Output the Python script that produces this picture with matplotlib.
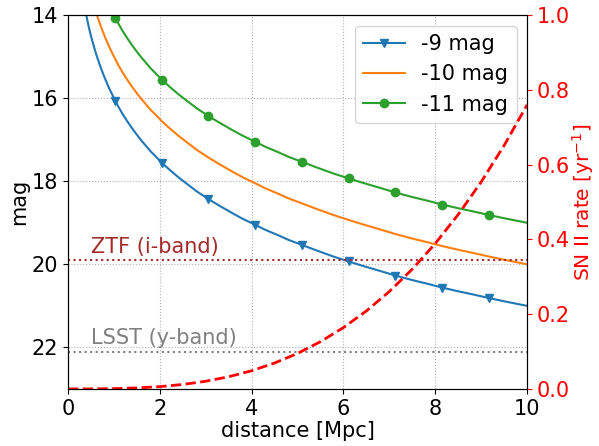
import matplotlib
matplotlib.use("Agg")
import matplotlib.pyplot as plt

# distances [Mpc] at which the curves were read
distance = [0.35, 0.4, 0.45, 0.5, 0.55, 0.6, 0.65, 0.7, 0.75, 0.8, 0.9, 1.03, 1.1, 1.2, 1.3,
            1.4, 1.5, 1.6, 1.7, 1.8, 1.9, 2.04, 2.2, 2.4, 2.6, 2.8, 3.06, 3.3, 3.6, 3.8,
            4.08, 4.3, 4.6, 4.8, 5.09, 5.4, 5.8, 6.11, 6.4, 6.8, 7.13, 7.5, 7.8, 8.15,
            8.5, 8.8, 9.16, 9.5, 10.0]
mag_9 = [13.72, 14.01, 14.27, 14.50, 14.70, 14.89, 15.06, 15.22, 15.37, 15.51, 15.77, 16.06,
         16.21, 16.40, 16.57, 16.73, 16.88, 17.02, 17.15, 17.28, 17.39, 17.55, 17.71, 17.90,
         18.07, 18.24, 18.43, 18.59, 18.78, 18.90, 19.05, 19.17, 19.31, 19.41, 19.53, 19.66,
         19.82, 19.93, 20.03, 20.16, 20.27, 20.38, 20.46, 20.56, 20.65, 20.72, 20.81, 20.89,
         21.00]
mag_10 = [12.72, 13.01, 13.27, 13.50, 13.70, 13.89, 14.06, 14.22, 14.37, 14.51, 14.77, 15.06,
          15.21, 15.40, 15.57, 15.73, 15.88, 16.02, 16.15, 16.28, 16.39, 16.55, 16.71, 16.90,
          17.07, 17.24, 17.43, 17.59, 17.78, 17.90, 18.05, 18.17, 18.31, 18.41, 18.53, 18.66,
          18.82, 18.93, 19.03, 19.16, 19.27, 19.38, 19.46, 19.56, 19.65, 19.72, 19.81, 19.89,
          20.00]
mag_11 = [11.72, 12.01, 12.27, 12.50, 12.70, 12.89, 13.06, 13.22, 13.37, 13.51, 13.77, 14.06,
          14.21, 14.40, 14.57, 14.73, 14.88, 15.02, 15.15, 15.28, 15.39, 15.55, 15.71, 15.90,
          16.07, 16.24, 16.43, 16.59, 16.78, 16.90, 17.05, 17.17, 17.31, 17.41, 17.53, 17.66,
          17.82, 17.93, 18.03, 18.16, 18.27, 18.38, 18.46, 18.56, 18.65, 18.72, 18.81, 18.89,
          19.00]
marker_idx = [11, 21, 26, 30, 34, 37, 40, 43, 46]

# SN II rate vs distance
rate_dist = [0, 0.5, 1, 1.5, 2, 2.5, 3, 3.5, 4, 4.5, 5, 5.5, 6, 6.5, 7, 7.5, 8, 8.5, 9, 9.5, 10]
rate = [0, 0.0001, 0.0008, 0.0026, 0.0061, 0.0119, 0.0205, 0.0326, 0.0486, 0.0693, 0.095,
        0.1265, 0.1642, 0.2087, 0.2607, 0.3206, 0.3891, 0.4667, 0.5540, 0.6516, 0.76]

ztf_limit = 19.9
lsst_limit = 22.1

fs = 15
fig = plt.figure(figsize=(5.99, 4.46), dpi=100)
ax = fig.add_axes([0.1135, 0.128, 0.7665, 0.838])

ax.plot(distance, mag_9, color="tab:blue", marker="v", markevery=marker_idx, ms=6, label="-9 mag")
ax.plot(distance, mag_10, color="tab:orange", label="-10 mag")
ax.plot(distance, mag_11, color="tab:green", marker="o", markevery=marker_idx, ms=6, label="-11 mag")

ax.axhline(ztf_limit, color="brown", ls=":", lw=1.5)
ax.axhline(lsst_limit, color="gray", ls=":", lw=1.5)
ax.text(0.5, 19.72, "ZTF (i-band)", color="brown", fontsize=fs)
ax.text(0.5, 21.91, "LSST (y-band)", color="gray", fontsize=fs)

ax.set_xlim(0, 10)
ax.set_ylim(23, 14)
ax.set_xticks([0, 2, 4, 6, 8, 10])
ax.set_yticks([14, 16, 18, 20, 22])
ax.grid(ls=":", color="#b0b0b0")
ax.tick_params(labelsize=fs)
ax.set_xlabel("distance [Mpc]", fontsize=fs, labelpad=2)
ax.set_ylabel("mag", fontsize=fs, labelpad=2)
ax.legend(loc="upper right", fontsize=fs)

ax2 = ax.twinx()
ax2.plot(rate_dist, rate, color="red", ls="--", lw=2)
ax2.set_ylim(0, 1)
ax2.set_yticks([0, 0.2, 0.4, 0.6, 0.8, 1.0])
ax2.tick_params(axis="y", colors="red", labelsize=fs)
ax2.set_ylabel("SN II rate [yr$^{-1}$]", color="red", fontsize=14.5, labelpad=0)

fig.savefig("out.png", dpi=100)
